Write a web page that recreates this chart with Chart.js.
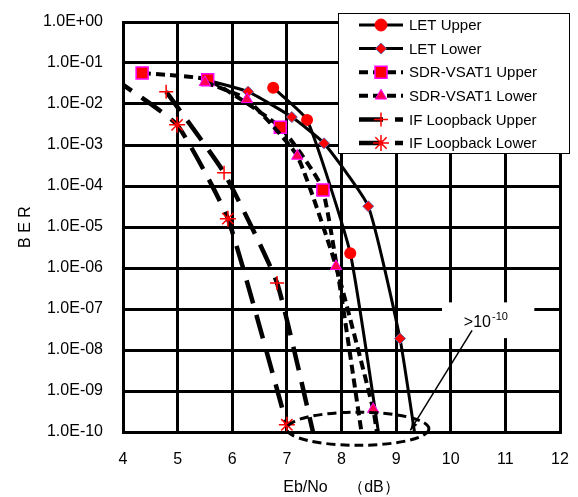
<!DOCTYPE html>
<html>
<head>
<meta charset="utf-8">
<script src="https://cdn.jsdelivr.net/npm/chart.js@4.4.1/dist/chart.umd.min.js"></script>
<style>
  html, body { margin: 0; padding: 0; background: #fff; }
  #wrap { width: 578px; height: 497px; }
</style>
</head>
<body>
<div id="wrap"><canvas id="berChart"></canvas></div>
<script>
// ---- data ----
const EBNO_TICKS  = [4, 5, 6, 7, 8, 9, 10, 11, 12];
const BER_TICKS   = [1e0, 1e-1, 1e-2, 1e-3, 1e-4, 1e-5, 1e-6, 1e-7, 1e-8, 1e-9, 1e-10];
const BER_LABELS  = ['1.0E+00', '1.0E-01', '1.0E-02', '1.0E-03', '1.0E-04', '1.0E-05',
                     '1.0E-06', '1.0E-07', '1.0E-08', '1.0E-09', '1.0E-10'];

// points below 1E-10 run off the axis (">10^-10")
const LET_UP_X  = [6.75, 7.37, 8.16, 8.71];
const LET_UP_Y  = [2.5e-2, 4.1e-3, 2.3e-6, 5e-11];
const LET_LO_X  = [5.55, 6.29, 7.09, 7.68, 8.49, 9.07, 9.37];
const LET_LO_Y  = [3.8e-2, 2.0e-2, 4.8e-3, 1.1e-3, 3.2e-5, 1.9e-8, 5e-11];
const SDR_UP_X  = [4.35, 5.55, 6.88, 7.66, 8.40];
const SDR_UP_Y  = [5.7e-2, 3.9e-2, 2.7e-3, 8.0e-5, 5e-11];
const SDR_LO_X  = [5.50, 6.27, 7.19, 7.90, 8.58, 8.68];
const SDR_LO_Y  = [3.4e-2, 1.3e-2, 5.4e-4, 1.1e-6, 3.6e-10, 5e-11];
const IF_UP_X   = [4.79, 5.85, 6.82, 7.53];
const IF_UP_Y   = [2.0e-2, 2.1e-4, 4.3e-7, 5e-11];
const IF_LO_X   = [3.80, 4.99, 5.92, 7.00];
const IF_LO_Y   = [4.5e-2, 3.1e-3, 1.6e-5, 1.5e-10];

const NOTE_MAIN = '>10';
const NOTE_SUP  = '-10';

const FONT = '"Liberation Sans", Arial, sans-serif';

const SERIES = [
  { label: 'LET Upper',         xs: LET_UP_X, ys: LET_UP_Y, dash: [],      lw: 3,   order: 3,
    style: 'circle',   r: 6,   fill: '#ff0000', stroke: '#ff0000', bw: 0 },
  { label: 'LET Lower',         xs: LET_LO_X, ys: LET_LO_Y, dash: [],      lw: 3,   order: 2,
    style: 'rectRot',  r: 5.5, fill: '#ff0000', stroke: '#6060a8', bw: 1 },
  { label: 'SDR-VSAT1 Upper',   xs: SDR_UP_X, ys: SDR_UP_Y, dash: [9, 5],  lw: 4,   order: 1,
    style: 'rect',     r: 8.5, fill: '#ff0000', stroke: '#ff00ff', bw: 1.5 },
  { label: 'SDR-VSAT1 Lower',   xs: SDR_LO_X, ys: SDR_LO_Y, dash: [9, 5],  lw: 4,   order: 0,
    style: 'triangle', r: 6.5, fill: '#ff0050', stroke: '#ff00ff', bw: 1 },
  { label: 'IF Loopback Upper', xs: IF_UP_X,  ys: IF_UP_Y,  dash: [24, 12], lw: 4.5, order: 4,
    style: 'cross',    r: 7,   fill: '#ff0000', stroke: '#ff0000', bw: 1.5 },
  { label: 'IF Loopback Lower', xs: IF_LO_X,  ys: IF_LO_Y,  dash: [24, 12], lw: 4.5, order: 5,
    style: 'star',     r: 8,   fill: '#ff0000', stroke: '#ff0000', bw: 1.5 },
];

function markerAt(ctx, s, x, y) {
  ctx.save();
  ctx.setLineDash([]);
  ctx.fillStyle = s.fill;
  ctx.strokeStyle = s.stroke;
  ctx.lineWidth = s.bw || 1;
  Chart.helpers.drawPoint(ctx, { pointStyle: s.style, radius: s.r, rotation: 0, borderWidth: s.bw || 1 }, x, y);
  ctx.restore();
}

// legend box + ">10^-10" note, ellipse and arrow
const extrasPlugin = {
  id: 'extras',
  afterDraw(chart) {
    const ctx = chart.ctx;
    const xs = chart.scales.x, ys = chart.scales.y;
    const px = v => xs.getPixelForValue(v);
    const py = v => ys.getPixelForValue(v);

    // dashed ellipse around the floor points
    ctx.save();
    ctx.strokeStyle = '#000';
    ctx.lineWidth = 3;
    ctx.setLineDash([9, 5]);
    const cx = px(8.3), cy = py(1.2e-10);
    const rx = px(9.6) - cx, ry = py(5e-11) - cy + 1;
    ctx.beginPath();
    ctx.ellipse(cx, cy, rx, ry, 0, 0, Math.PI * 2);
    ctx.stroke();
    ctx.restore();

    // white box behind the note
    ctx.save();
    ctx.fillStyle = '#fff';
    const bx0 = px(9.84), bx1 = px(11.53), by0 = py(1.45e-7), by1 = py(1.95e-8);
    ctx.fillRect(bx0, by0, bx1 - bx0, by1 - by0);

    // arrow
    const ax0 = px(10.39), ay0 = py(3.0e-8), ax1 = px(9.26), ay1 = py(1.1e-10);
    ctx.strokeStyle = '#000';
    ctx.fillStyle = '#000';
    ctx.lineWidth = 1.5;
    ctx.beginPath(); ctx.moveTo(ax0, ay0); ctx.lineTo(ax1, ay1); ctx.stroke();
    const ang = Math.atan2(ay1 - ay0, ax1 - ax0);
    ctx.beginPath();
    ctx.moveTo(ax1, ay1);
    ctx.lineTo(ax1 - 9 * Math.cos(ang - 0.35), ay1 - 9 * Math.sin(ang - 0.35));
    ctx.lineTo(ax1 - 9 * Math.cos(ang + 0.35), ay1 - 9 * Math.sin(ang + 0.35));
    ctx.closePath(); ctx.fill();

    // note text
    ctx.fillStyle = '#000';
    ctx.textBaseline = 'alphabetic';
    ctx.textAlign = 'left';
    ctx.font = '16px ' + FONT;
    const tx = px(10.24), ty = py(3.6e-8);
    ctx.fillText(NOTE_MAIN, tx, ty);
    const w = ctx.measureText(NOTE_MAIN).width;
    ctx.font = '11px ' + FONT;
    ctx.fillText(NOTE_SUP, tx + w + 1, ty - 7);
    ctx.restore();

    // legend
    ctx.save();
    const L = 338, T = 13, R = 570, B = 154;
    ctx.fillStyle = '#fff';
    ctx.fillRect(L, T, R - L, B - T);
    ctx.strokeStyle = '#000';
    ctx.lineWidth = 1;
    ctx.strokeRect(L + 0.5, T + 0.5, R - L - 1, B - T - 1);
    ctx.font = '15px ' + FONT;
    ctx.textBaseline = 'middle';
    SERIES.forEach((s, i) => {
      const y = 25 + i * 23.6;
      ctx.save();
      ctx.strokeStyle = '#000';
      ctx.lineWidth = s.lw;
      ctx.setLineDash(s.dash);
      ctx.beginPath(); ctx.moveTo(359, y); ctx.lineTo(403, y); ctx.stroke();
      ctx.restore();
      markerAt(ctx, s, 381, y);
      ctx.fillStyle = '#000';
      ctx.fillText(s.label, 409, y + 1);
    });
    ctx.restore();
  }
};

const datasets = SERIES.map(s => ({
  label: s.label,
  data: s.xs.map((x, i) => ({ x, y: s.ys[i] })),
  borderColor: '#000',
  borderWidth: s.lw,
  borderDash: s.dash,
  tension: 0.15,
  fill: false,
  order: s.order,
  pointStyle: s.style,
  pointRadius: s.r,
  pointBackgroundColor: s.fill,
  pointBorderColor: s.stroke,
  pointBorderWidth: s.bw,
  pointHoverRadius: s.r,
}));

new Chart(document.getElementById('berChart'), {
  type: 'line',
  data: { datasets },
  plugins: [extrasPlugin],
  options: {
    responsive: true,
    maintainAspectRatio: false,
    animation: false,
    events: [],
    layout: { padding: { top: 22, right: 18, left: 0, bottom: 0 } },
    plugins: { legend: { display: false }, tooltip: { enabled: false } },
    scales: {
      x: {
        type: 'linear', min: 4, max: 12,
        afterBuildTicks: sc => { sc.ticks = EBNO_TICKS.map(v => ({ value: v })); },
        afterFit: sc => { sc.height = 65; sc.paddingLeft = 8; sc.paddingRight = 8; },
        grid: { color: '#000', lineWidth: 3, drawTicks: false },
        border: { color: '#000', width: 3 },
        ticks: { color: '#000', padding: 18, font: { size: 16, family: FONT } },
        title: { display: true, text: 'Eb/No　 （dB）', color: '#000',
                 font: { size: 16, family: FONT }, padding: { top: 0, bottom: 0 } },
      },
      y: {
        type: 'logarithmic', min: 1e-10, max: 1,
        afterBuildTicks: sc => { sc.ticks = BER_TICKS.map(v => ({ value: v })); },
        afterFit: sc => { sc.width = 123; sc.paddingTop = 9; sc.paddingBottom = 9; },
        grid: { color: '#000', lineWidth: 3, drawTicks: false },
        border: { color: '#000', width: 3 },
        ticks: {
          color: '#000', padding: 20, font: { size: 16, family: FONT },
          callback: (v, i) => BER_LABELS[BER_TICKS.indexOf(v)] ?? '',
        },
        title: { display: true, text: 'B E R', color: '#000',
                 font: { size: 16, family: FONT }, padding: { top: 16, bottom: 0 } },
      },
    },
  },
});
</script>
</body>
</html>
